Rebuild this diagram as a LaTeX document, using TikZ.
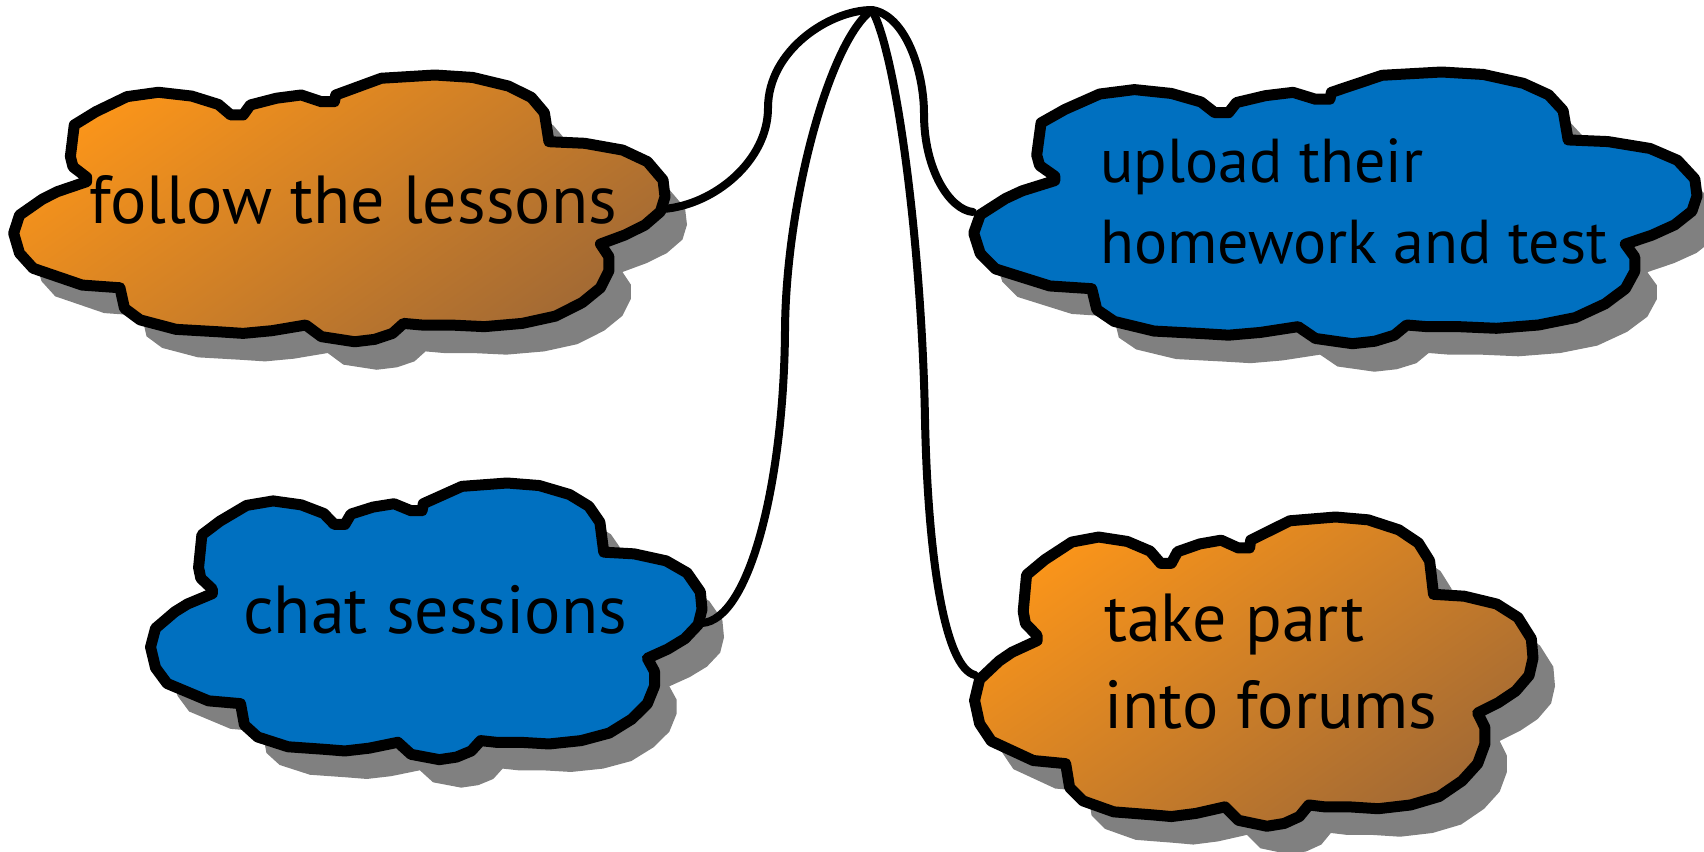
\documentclass[tikz,border=0pt]{standalone}
\usepackage{fontspec}
\setmainfont{PT Sans}
\definecolor{corange}{RGB}{249,148,26}
\definecolor{cbrown}{RGB}{163,106,52}
\definecolor{cblue}{RGB}{0,112,192}
\definecolor{shadowgray}{RGB}{128,128,128}
\def\cloudshape{(0.113,0.379) -- (0.092,0.340) -- (0.088,0.302) -- (0.094,0.185) -- (0.127,0.136) -- (0.175,0.080) -- (0.223,0.064) -- (0.274,0.078) -- (0.315,0.109) -- (0.334,0.148) -- (0.353,0.148) -- (0.364,0.111) -- (0.404,0.086) -- (0.442,0.074) -- (0.473,0.099) -- (0.493,0.099) -- (0.495,0.074) -- (0.565,0.012) -- (0.647,0.0) -- (0.705,0.009) -- (0.760,0.041) -- (0.795,0.083) -- (0.815,0.140) -- (0.822,0.247) -- (0.877,0.253) -- (0.935,0.278) -- (0.973,0.321) -- (0.997,0.389) -- (1.0,0.451) -- (0.993,0.506) -- (0.969,0.556) -- (0.938,0.593) -- (0.901,0.626) -- (0.914,0.673) -- (0.914,0.725) -- (0.901,0.788) -- (0.873,0.843) -- (0.832,0.893) -- (0.781,0.920) -- (0.723,0.932) -- (0.671,0.926) -- (0.627,0.926) -- (0.599,0.920) -- (0.582,0.957) -- (0.555,0.979) -- (0.524,0.988) -- (0.473,0.969) -- (0.449,0.926) -- (0.397,0.947) -- (0.353,0.957) -- (0.315,0.951) -- (0.250,0.942) -- (0.195,0.907) -- (0.171,0.864) -- (0.164,0.788) -- (0.106,0.778) -- (0.031,0.716) -- (0.010,0.660) -- (0.001,0.586) -- (0.010,0.519) -- (0.045,0.460) -- (0.068,0.432) -- (0.113,0.395) -- cycle}
\newcommand\drawcloud[5]{%
  \begin{scope}[shift={(#1+22,#2+28)},xscale=#3,yscale=#4]
    \fill[shadowgray] \cloudshape;
  \end{scope}
  \begin{scope}[shift={(#1,#2)},xscale=#3,yscale=#4]
    \path[#5,cloudline] \cloudshape;
  \end{scope}}
\tikzset{
  orangefill/.style={top color=corange, bottom color=cbrown, shading angle=35},
  bluefill/.style={fill=cblue},
  cloudline/.style={draw=black, line width=11pt, line join=round},
  conn/.style={draw=black, line width=8pt, line cap=round},
  cloudtext/.style={font=\fontsize{68}{84}\selectfont, anchor=base west, inner sep=0pt, align=left}
}
\begin{document}
\begin{tikzpicture}[x=1pt,y=-1pt]
\useasboundingbox (0,0) rectangle (1704,851);
\drawcloud{13}{75}{652}{270}{orangefill}
\drawcloud{973}{72}{724}{275}{bluefill}
\drawcloud{150}{483}{552}{280}{bluefill}
\drawcloud{974}{517}{559}{313}{orangefill}
\node[cloudtext] (t1) at (89,223) {follow the lessons};
\node[cloudtext, font=\fontsize{62}{81}\selectfont] (t2) at (1100,263) {upload their\\homework and test};
\node[cloudtext] (t3) at (243,633) {chat sessions};
\node[cloudtext, font=\fontsize{68}{87}\selectfont] (t4) at (1104,728) {take part\\into forums};
\coordinate (hub) at (872,10);
\coordinate (e1) at (663,209);
\coordinate (e2) at (973,212);
\coordinate (e3) at (702,623);
\coordinate (e4) at (975,675);
\draw[conn] (e1) .. controls (715,205) and (768,160) .. (768,108) .. controls (768,50) and (830,10) .. (hub);
\draw[conn] (hub) .. controls (905,15) and (924,70) .. (924,114) .. controls (924,170) and (950,210) .. (e2);
\draw[conn] (hub) .. controls (830,40) and (786,200) .. (785,330) .. controls (784,480) and (750,620) .. (e3);
\draw[conn] (hub) .. controls (897,55) and (922,250) .. (925,420) .. controls (928,560) and (945,668) .. (e4);
\end{tikzpicture}
\end{document}
